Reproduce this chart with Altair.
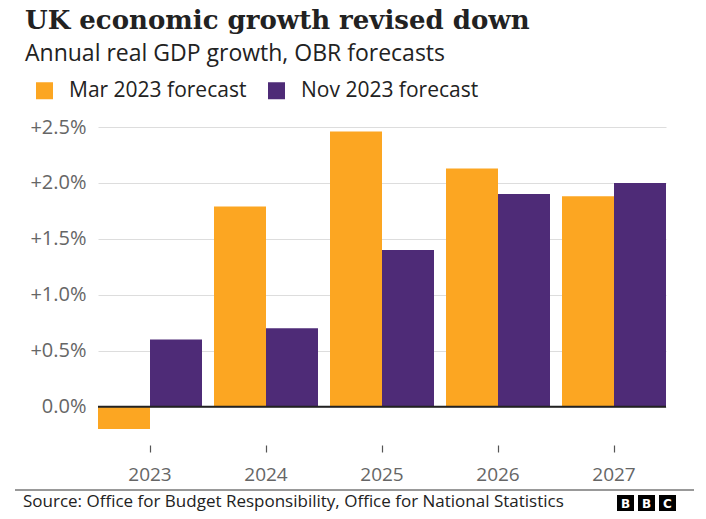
import altair as alt
import pandas as pd

years = ["2023", "2024", "2025", "2026", "2027"]
mar_2023 = [-0.2, 1.79, 2.46, 2.13, 1.88]
nov_2023 = [0.6, 0.7, 1.4, 1.9, 2.0]
series = ["Mar 2023 forecast", "Nov 2023 forecast"]
colors = ["#FCA622", "#4E2B77"]
y_ticks = [0, 0.5, 1.0, 1.5, 2.0, 2.5]

title_text = "UK economic growth revised down"
subtitle_text = "Annual real GDP growth, OBR forecasts"
source_text = "Source: Office for Budget Responsibility, Office for National Statistics"

rows = []
for y, v in zip(years, mar_2023):
    rows.append({"year": y, "series": series[0], "value": v})
for y, v in zip(years, nov_2023):
    rows.append({"year": y, "series": series[1], "value": v})
df = pd.DataFrame(rows)

W, H = 568, 302
SANS = "Open Sans"

bars = alt.Chart(df).mark_bar().encode(
    x=alt.X("year:N", sort=years, title=None,
            scale=alt.Scale(paddingInner=12 / 116, paddingOuter=0),
            axis=alt.Axis(orient="bottom", offset=16, domain=False, tickSize=7,
                          tickColor="#555555", tickWidth=1.2, labelAngle=0,
                          labelFont=SANS, labelFontSize=19, labelColor="#666666",
                          labelPadding=13, grid=False)),
    xOffset=alt.XOffset("series:N", sort=series, scale=alt.Scale(paddingInner=0, paddingOuter=0)),
    y=alt.Y("value:Q", title=None,
            scale=alt.Scale(domain=[-0.2, 2.5], nice=False, zero=False),
            axis=alt.Axis(values=y_ticks, domain=False, ticks=False,
                          labelExpr="(datum.value > 0 ? '+' : '') + format(datum.value, '.1f') + '%'",
                          labelFont=SANS, labelFontSize=20, labelColor="#666666",
                          labelPadding=12, grid=True, gridColor="#dddddd", gridWidth=1.2)),
    color=alt.Color("series:N", sort=series,
                    scale=alt.Scale(domain=series, range=colors),
                    legend=alt.Legend(orient="none", legendX=-64, legendY=-47,
                                      direction="horizontal", title=None,
                                      symbolType="square", symbolSize=289,
                                      symbolStrokeWidth=0, symbolOpacity=1,
                                      labelFont=SANS, labelFontSize=21, labelColor="#222222",
                                      labelLimit=0, labelOffset=14, columnPadding=19, padding=0)),
)

zero = alt.Chart(pd.DataFrame({"v": [0]})).mark_rule(color="#222222", strokeWidth=2).encode(
    y="v:Q"
)

def text_layer(txt, x, y, size, font, weight="normal", color="#222222", align="left"):
    return alt.Chart(pd.DataFrame({"t": [txt]})).mark_text(
        align=align, baseline="alphabetic", font=font, fontSize=size,
        fontWeight=weight, color=color
    ).encode(text="t:N", x=alt.value(x), y=alt.value(y))

title = text_layer(title_text, -73, -98, 26, "DejaVu Serif", "bold")
subtitle = text_layer(subtitle_text, -73, -66, 23, SANS)
source = text_layer(source_text, -75, 380, 17, SANS)

footer_line = alt.Chart(pd.DataFrame({"a": [0]})).mark_rule(color="#999999", strokeWidth=2).encode(
    x=alt.value(-83), x2=alt.value(596), y=alt.value(363)
)

logo_layers = []
for i, letter in enumerate(["B", "B", "C"]):
    x0 = 519 + i * 21
    logo_layers.append(alt.Chart(pd.DataFrame({"a": [0]})).mark_rect(color="#000000").encode(
        x=alt.value(x0), x2=alt.value(x0 + 17), y=alt.value(368), y2=alt.value(384)))
    logo_layers.append(alt.Chart(pd.DataFrame({"t": [letter]})).mark_text(
        align="center", baseline="middle", font="DejaVu Sans", fontWeight="bold",
        fontSize=12, color="#ffffff").encode(text="t:N", x=alt.value(x0 + 8.5), y=alt.value(376.5)))

chart = alt.layer(bars, zero, title, subtitle, source, footer_line, *logo_layers).properties(
    width=W, height=H,
    background="#ffffff",
    autosize=alt.AutoSizeParams(type="none"),
    padding={"left": 90, "top": 119, "right": 32, "bottom": 82},
).configure_view(stroke=None)

chart.save("out.html", embed_options={"renderer": "svg", "actions": False})
